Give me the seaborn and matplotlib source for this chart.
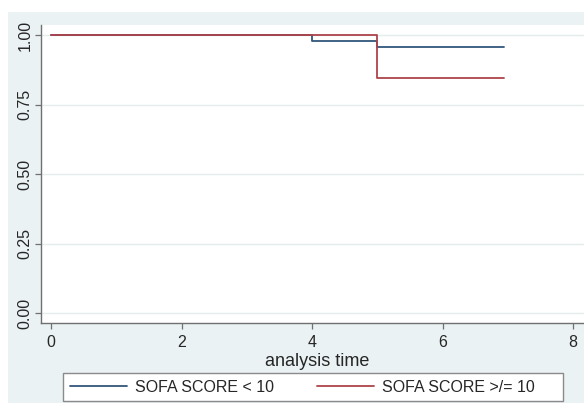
import matplotlib
matplotlib.use("Agg")
import matplotlib.pyplot as plt
from matplotlib.patches import Rectangle
import seaborn as sns
import pandas as pd

# ---- data (Kaplan-Meier step estimates) ----
group_labels = ["SOFA SCORE < 10", "SOFA SCORE >/= 10"]
time_low = [0, 4, 5, 6.95]
surv_low = [1.0, 0.978, 0.957, 0.957]
time_high = [0, 5, 6.95]
surv_high = [1.0, 0.845, 0.845]
x_ticks = [0, 2, 4, 6, 8]
y_ticks = [0.00, 0.25, 0.50, 0.75, 1.00]
y_tick_labels = ["0.00", "0.25", "0.50", "0.75", "1.00"]
x_label = "analysis time"

df = pd.concat([
    pd.DataFrame({"time": time_low, "surv": surv_low, "group": group_labels[0]}),
    pd.DataFrame({"time": time_high, "surv": surv_high, "group": group_labels[1]}),
], ignore_index=True)

sns.set_style("white")
plt.rcParams["font.family"] = ["Liberation Sans", "DejaVu Sans"]

W, H = 584, 403
fig = plt.figure(figsize=(W / 100, H / 100), dpi=100)
fig.patch.set_facecolor("white")
bg = "#eaf2f3"
fig.patches.append(Rectangle((8 / W, 0), 1, (H - 12) / H, transform=fig.transFigure,
                             facecolor=bg, edgecolor="none", zorder=-5))

ax_left, ax_top, ax_bottom = 41, 25, 323
ax_wfrac = (W - ax_left) / W + 0.02
ax = fig.add_axes([ax_left / W, (H - ax_bottom) / H, ax_wfrac,
                   (ax_bottom - ax_top) / H])
ax.set_facecolor("white")

palette = {group_labels[0]: "#33567c", group_labels[1]: "#ae434b"}
sns.lineplot(data=df, x="time", y="surv", hue="group", palette=palette,
             drawstyle="steps-post", estimator=None, sort=False, legend=False,
             linewidth=1.3, ax=ax)

px_per_x = 65.25
x0 = -10 / px_per_x
ax.set_xlim(x0, x0 + ax_wfrac * W / px_per_x)
px_per_y = 278.0
ax.set_ylim(-10 / px_per_y, 1 + 10 / px_per_y)

ax.set_xticks(x_ticks)
ax.set_yticks(y_ticks)
ax.set_yticklabels(y_tick_labels, rotation=90, va="center")
ax.yaxis.grid(True, color="#e4eded", linewidth=1.0)
ax.xaxis.grid(False)

for s in ["top", "right"]:
    ax.spines[s].set_visible(False)
for s in ["left", "bottom"]:
    ax.spines[s].set_color("#707070")
    ax.spines[s].set_linewidth(1.0)

ax.tick_params(axis="x", direction="out", length=4, width=0.9, color="#707070",
               labelsize=11.5, pad=4.5, bottom=True)
ax.tick_params(axis="y", direction="out", length=4.5, width=0.9, color="#707070",
               labelsize=11.5, pad=1.5, left=True)

ax.set_xlabel(x_label, fontsize=13)
ax.set_ylabel("")
ax.xaxis.set_label_coords((317 - ax_left) / (W * ax_wfrac), (ax_bottom - 361) / (ax_bottom - ax_top))
ax.xaxis.label.set_va("center")

# legend frame
fig.patches.append(Rectangle((63 / W, (H - 401) / H), (563 - 63) / W, (401 - 373) / H,
                             transform=fig.transFigure, facecolor="white",
                             edgecolor="#8a8a8a", linewidth=1.0, zorder=1))
handles = ax.get_lines()[:2]
fig.legend(handles, group_labels, loc="center left", bbox_to_anchor=(70 / W, (H - 387) / H),
           ncol=2, frameon=False, fontsize=11.5, handlelength=3.55, handletextpad=0.5,
           columnspacing=2.7, borderpad=0, borderaxespad=0)

fig.savefig("out.png", dpi=100, facecolor="white")
